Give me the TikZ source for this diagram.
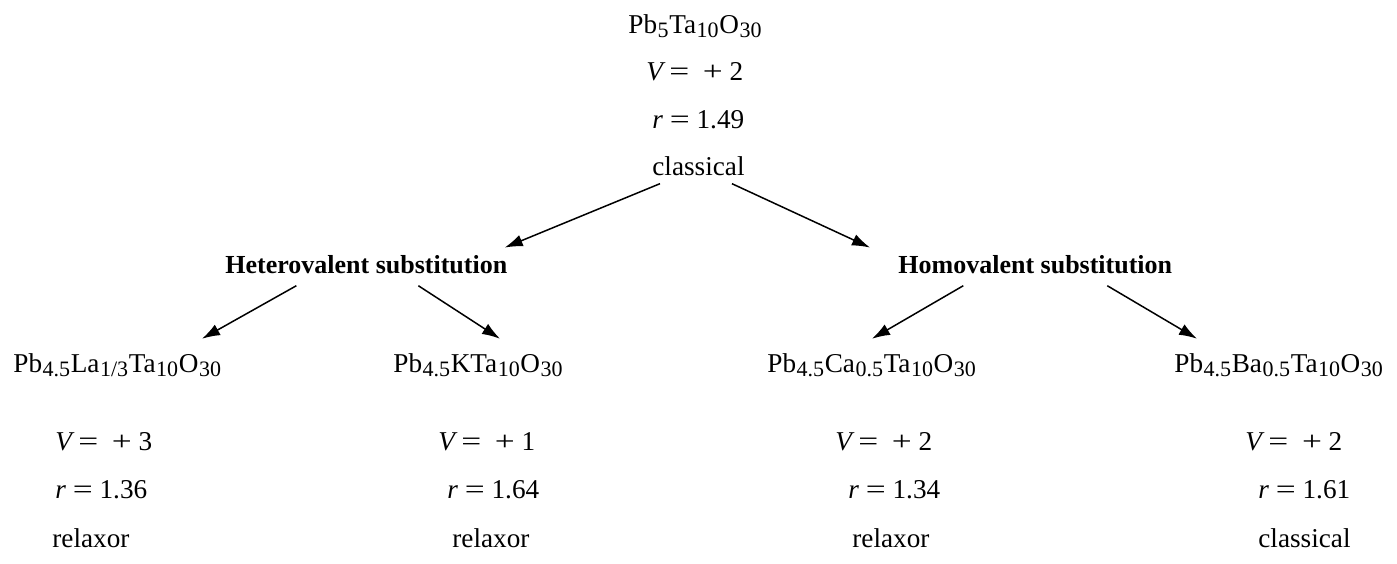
\documentclass[tikz,border=0pt]{standalone}
\usepackage{fontspec}
\usepackage{graphicx}
\setmainfont{Liberation Serif}
\usetikzlibrary{calc,arrows.meta}
\newcommand{\sbs}[1]{\kern0.3pt\raisebox{-0.32ex}{\fontsize{11}{11}\selectfont #1}\kern0.3pt}
\newcommand{\eqs}{\scalebox{1.3}[1]{=}}
\newcommand{\pls}{\scalebox{1.3}[1]{+}}
\newcommand{\vval}[1]{\textit{V}\hspace{0.14em}\eqs\hspace{0.5em}\pls\hspace{0.25em}#1}
\newcommand{\rval}[1]{\textit{r}\hspace{0.25em}\eqs\hspace{0.25em}#1}
\begin{document}
\begin{tikzpicture}[x=0.5pt,y=-0.5pt,
  txt/.style={inner sep=0pt, anchor=base west, font=\fontsize{13.6}{16}\selectfont},
  head/.style={inner sep=0pt, anchor=base west, font=\fontsize{13}{16}\selectfont\bfseries},
  arr/.style={line width=0.75pt, -{Latex[length=9pt,width=6pt]}}]
\useasboundingbox (0,0) rectangle (1397,563);
% top
\node[txt] (f0) at (628,33) {Pb\sbs{5}Ta\sbs{10}O\sbs{30}};
\node[txt] (v0) at (646,80) {\vval{2}};
\node[txt] (r0) at (652,128) {\rval{1.49}};
\node[txt] (c0) at (652,175) {classical};
% headings
\node[head] (het) at (225,273) {Heterovalent substitution};
\node[head] (hom) at (898,273) {Homovalent substitution};
% formulas
\node[txt] (f1) at (13,372) {Pb\sbs{4.5}La\sbs{1/3}Ta\sbs{10}O\sbs{30}};
\node[txt] (f2) at (393,372) {Pb\sbs{4.5}KTa\sbs{10}O\sbs{30}};
\node[txt] (f3) at (767,372) {Pb\sbs{4.5}Ca\sbs{0.5}Ta\sbs{10}O\sbs{30}};
\node[txt] (f4) at (1174,372) {Pb\sbs{4.5}Ba\sbs{0.5}Ta\sbs{10}O\sbs{30}};
% values
\node[txt] (v1) at (55,450) {\vval{3}};
\node[txt] (r1) at (55,498) {\rval{1.36}};
\node[txt] (c1) at (52,547) {relaxor};
\node[txt] (v2) at (438,450) {\vval{1}};
\node[txt] (r2) at (447,498) {\rval{1.64}};
\node[txt] (c2) at (452,547) {relaxor};
\node[txt] (v3) at (835,450) {\vval{2}};
\node[txt] (r3) at (848,498) {\rval{1.34}};
\node[txt] (c3) at (852,547) {relaxor};
\node[txt] (v4) at (1245,450) {\vval{2}};
\node[txt] (r4) at (1258,498) {\rval{1.61}};
\node[txt] (c4) at (1258,547) {classical};
% arrows
\draw[arr] ($(c0.south west)+(8,8)$) -- ($(het.north east)+(-3,-7)$);
\draw[arr] ($(c0.south east)+(-13,8)$) -- ($(hom.north west)+(-28,-7)$);
\draw[arr] ($(het.south)+(-70,12)$) -- ($(f1.north west)+(189,-14)$);
\draw[arr] ($(het.south)+(52,12)$) -- ($(f2.north west)+(107,-14)$);
\draw[arr] ($(hom.south)+(-72,12)$) -- ($(f3.north west)+(105,-14)$);
\draw[arr] ($(hom.south)+(72,12)$) -- ($(f4.north west)+(23,-14)$);
\end{tikzpicture}
\end{document}
